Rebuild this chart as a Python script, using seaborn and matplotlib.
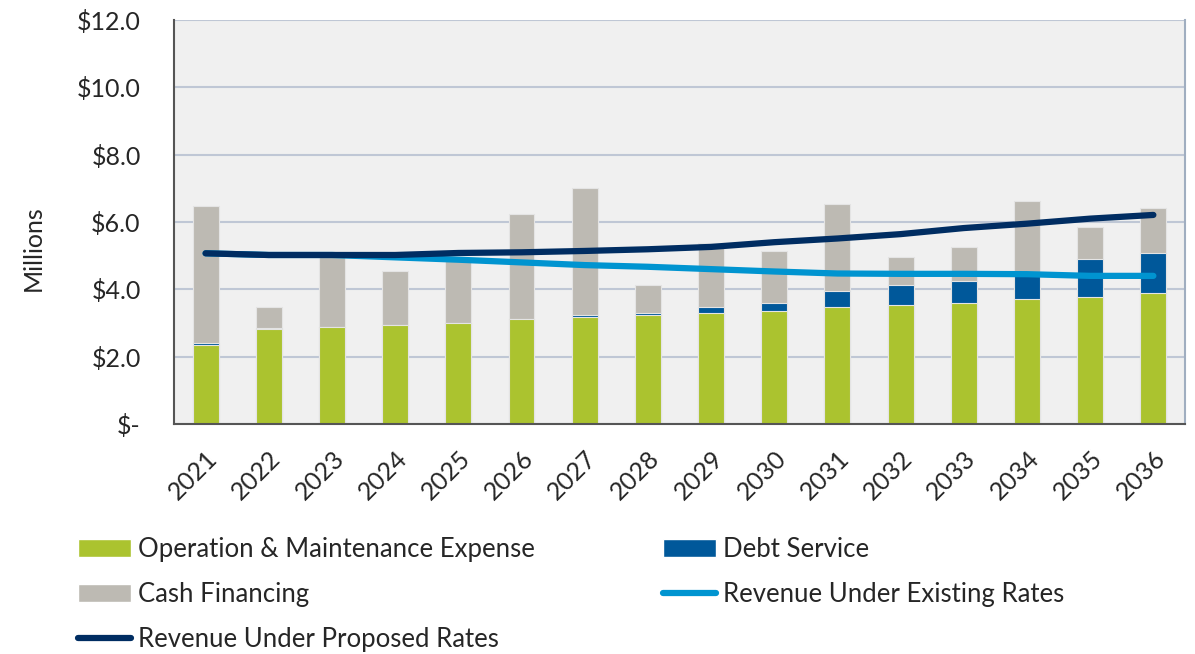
import matplotlib
matplotlib.use("Agg")
import matplotlib.pyplot as plt
import numpy as np
import pandas as pd
import seaborn as sns
from matplotlib.patches import Patch
from matplotlib.lines import Line2D
from matplotlib.ticker import FuncFormatter

# Data (millions of $)
years = [str(y) for y in range(2021, 2037)]
om_expense = [2.35, 2.82, 2.87, 2.93, 2.99, 3.11, 3.18, 3.24, 3.30, 3.36, 3.47, 3.53, 3.59, 3.71, 3.77, 3.89]
debt_service = [0.05, 0.02, 0.0, 0.0, 0.0, 0.0, 0.05, 0.06, 0.17, 0.23, 0.48, 0.60, 0.66, 0.72, 1.13, 1.19]
cash_financing = [4.07, 0.63, 2.08, 1.62, 1.91, 3.12, 3.77, 0.83, 1.91, 1.56, 2.57, 0.84, 1.02, 2.20, 0.96, 1.33]
rev_existing = [5.07, 5.02, 5.02, 4.95, 4.88, 4.80, 4.72, 4.67, 4.60, 4.53, 4.47, 4.46, 4.46, 4.45, 4.40, 4.40]
rev_proposed = [5.07, 5.02, 5.02, 5.02, 5.08, 5.10, 5.14, 5.19, 5.26, 5.40, 5.51, 5.64, 5.82, 5.95, 6.10, 6.21]

c_green = "#abc32f"
c_debt = "#00589a"
c_cash = "#bdbab3"
c_exist = "#0094d0"
c_prop = "#002d62"

df = pd.DataFrame({"year": years, "om": om_expense, "debt": debt_service, "cash": cash_financing})
df["om_debt"] = df["om"] + df["debt"]
df["total"] = df["om_debt"] + df["cash"]

sns.set_style("white")
plt.rcParams["font.family"] = ["Lato", "DejaVu Sans"]

fig = plt.figure(figsize=(11.95, 6.54), dpi=100)
ax = fig.add_axes([0.1456, 0.3517, 0.8460, 0.6177])
ax.set_facecolor("#f0f0f0")

# stacked bars drawn back to front using cumulative totals
bar_kw = dict(width=0.41, saturation=1, ax=ax, zorder=2, edgecolor="#e4e4e4", linewidth=0.8)
sns.barplot(data=df, x="year", y="total", color=c_cash, **bar_kw)
sns.barplot(data=df, x="year", y="om_debt", color=c_debt, **bar_kw)
sns.barplot(data=df, x="year", y="om", color=c_green, **bar_kw)

xpos = np.arange(len(years))
sns.lineplot(x=xpos, y=rev_existing, color=c_exist, lw=4.5, ax=ax, zorder=3, solid_capstyle="round")
sns.lineplot(x=xpos, y=rev_proposed, color=c_prop, lw=4.5, ax=ax, zorder=4, solid_capstyle="round")

ax.set_xlim(-0.5, len(years) - 0.5)
ax.set_ylim(0, 12)
ax.set_yticks(np.arange(0, 12.1, 2))
ax.yaxis.set_major_formatter(FuncFormatter(lambda v, p: "$-" if v == 0 else f"${v:.1f}"))
ax.grid(axis="y", color="#bfc7d5", lw=1.5, zorder=0)
ax.set_axisbelow(True)

ax.set_xticks(xpos)
ax.set_xticklabels(years, rotation=45, ha="right", rotation_mode="anchor")
ax.set_xticks(np.arange(-0.5, len(years)), minor=True)
ax.tick_params(axis="x", which="major", length=0, labelsize=18, pad=16)
ax.tick_params(axis="x", which="minor", length=7, width=1.5, color="#555555", direction="out")
ax.tick_params(axis="y", length=7, width=1.5, color="#555555", direction="out", labelsize=18, pad=17)

ax.set_xlabel("")
ax.set_ylabel("Millions", fontsize=18)
ax.yaxis.set_label_coords(-0.128, 0.436)

for s in ["left", "bottom"]:
    ax.spines[s].set_color("#555555")
    ax.spines[s].set_linewidth(1.5)
ax.spines["top"].set_visible(False)
ax.spines["right"].set_color("#a0aec0")
ax.spines["right"].set_linewidth(1.5)

handles = [
    Patch(facecolor=c_green, label="Operation & Maintenance Expense"),
    Patch(facecolor=c_cash, label="Cash Financing"),
    Line2D([0], [0], color=c_prop, lw=4.5, label="Revenue Under Proposed Rates"),
    Patch(facecolor=c_debt, label="Debt Service"),
    Line2D([0], [0], color=c_exist, lw=4.5, label="Revenue Under Existing Rates"),
]
fig.legend(handles=handles, loc="upper left", bbox_to_anchor=(0.046, 0.215), ncol=2,
           frameon=False, fontsize=18.5, handlelength=2.05, handleheight=0.7,
           handletextpad=0.27, columnspacing=5.0, labelspacing=0.78)

fig.savefig("out.png", dpi=100)
